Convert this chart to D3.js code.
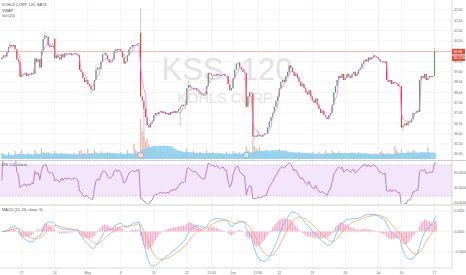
<!DOCTYPE html>
<html>
<head>
<meta charset="utf-8">
<script src="https://cdn.jsdelivr.net/npm/d3@7"></script>
<style>
body { margin: 0; background: #fff; }
svg { display: block; font-family: "Liberation Sans", Arial, sans-serif; }
</style>
</head>
<body>
<div id="chart"></div>
<script>
// KSS, 120 minute bars, BATS
var tradingDays = [
  "2017-04-11","2017-04-12","2017-04-13","2017-04-17","2017-04-18","2017-04-19","2017-04-20","2017-04-21",
  "2017-04-24","2017-04-25","2017-04-26","2017-04-27","2017-04-28",
  "2017-05-01","2017-05-02","2017-05-03","2017-05-04","2017-05-05","2017-05-08","2017-05-09","2017-05-10",
  "2017-05-11","2017-05-12","2017-05-15","2017-05-16","2017-05-17","2017-05-18","2017-05-19","2017-05-22",
  "2017-05-23","2017-05-24","2017-05-25","2017-05-26","2017-05-30","2017-05-31",
  "2017-06-01","2017-06-02","2017-06-05","2017-06-06","2017-06-07","2017-06-08","2017-06-09","2017-06-12",
  "2017-06-13","2017-06-14","2017-06-15","2017-06-16","2017-06-19","2017-06-20","2017-06-21","2017-06-22",
  "2017-06-23","2017-06-26","2017-06-27","2017-06-28","2017-06-29","2017-06-30",
  "2017-07-03","2017-07-05","2017-07-06","2017-07-07","2017-07-10","2017-07-11","2017-07-12","2017-07-13",
  "2017-07-14","2017-07-17"
];
// sessions with fewer than four bars (half day, last day still open)
var shortDays = {"2017-07-03": 2, "2017-07-17": 2};

// closes, four bars a day
var closes = [
  39.70, 39.80, 39.75, 39.95,
  40.20, 40.30, 40.25, 40.30,
  40.10, 39.60, 39.50, 38.75,
  38.85, 38.90, 38.95, 38.80,
  38.90, 38.85, 38.95, 38.90,
  39.65, 39.50, 39.60, 39.20,
  40.00, 40.60, 40.75, 40.70,
  40.30, 40.20, 40.25, 40.20,
  39.65, 39.80, 39.70, 39.60,
  39.85, 39.70, 39.90, 39.85,
  39.85, 39.90, 39.80, 39.85,
  39.90, 39.85, 39.80, 39.10,
  39.00, 38.70, 38.50, 38.60,
  38.40, 38.30, 38.15, 38.10,
  38.60, 39.10, 39.20, 39.15,
  39.50, 39.85, 39.90, 39.80,
  39.60, 39.45, 39.50, 39.60,
  40.00, 40.10, 40.05, 40.10,
  40.00, 39.70, 39.40, 39.50,
  39.80, 40.10, 40.20, 40.30,
  40.25, 40.30, 40.35, 40.40,
  37.80, 37.60, 37.20, 36.80,
  36.40, 36.30, 36.50, 36.60,
  36.90, 37.00, 36.95, 37.05,
  37.10, 37.00, 37.05, 36.95,
  37.00, 36.90, 37.05, 37.00,
  37.10, 37.00, 37.10, 37.20,
  37.30, 37.40, 37.35, 37.40,
  38.20, 38.35, 38.25, 38.20,
  38.15, 38.20, 38.10, 38.05,
  37.95, 37.90, 37.85, 37.90,
  38.30, 38.95, 38.90, 38.85,
  38.85, 38.80, 38.90, 38.85,
  38.80, 38.85, 38.90, 38.80,
  38.80, 38.40, 38.10, 38.20,
  38.70, 39.10, 39.40, 39.45,
  39.20, 39.10, 39.00, 38.95,
  37.30, 37.80, 38.00, 37.95,
  35.85, 35.90, 35.85, 35.95,
  35.90, 35.85, 35.95, 36.00,
  36.00, 36.30, 36.60, 36.80,
  37.00, 37.30, 37.60, 37.80,
  38.20, 38.50, 38.60, 38.50,
  38.80, 39.00, 39.30, 39.20,
  39.00, 38.80, 38.90, 38.70,
  38.50, 38.30, 38.40, 38.20,
  38.00, 37.90, 38.10, 37.80,
  37.60, 37.50, 37.70, 37.40,
  37.20, 37.00, 37.10, 36.90,
  36.80, 36.70, 36.90, 37.00,
  37.40, 38.00, 38.30, 38.60,
  38.80, 38.70, 38.90, 38.60,
  38.70, 38.90, 38.80, 38.70,
  38.90, 39.00, 38.80, 38.90,
  39.10, 39.20, 39.40, 39.50,
  39.60, 39.50, 39.70, 39.60,
  39.70, 39.80, 39.75, 39.70,
  39.60, 39.50,
  39.50, 39.45, 39.50, 38.60,
  38.50, 38.60, 38.40, 38.50,
  38.45, 38.40, 38.30, 38.30,
  36.30, 36.40, 36.50, 36.40,
  36.60, 36.55, 36.70, 37.00,
  37.00, 37.10, 37.05, 38.60,
  38.80, 38.70, 38.90, 38.60,
  38.70, 38.80, 38.75, 38.80,
  39.98, 39.98
];

// bars that opened away from the previous close
var gapOpens = {0: 39.60, 32: 40.60, 84: 40.90};
// wicks that reach past the body
var wickHighs = {5: 40.45, 26: 40.95, 57: 39.35, 84: 42.10, 113: 38.55, 262: 40.15};
var wickLows = {10: 39.35, 54: 37.95, 86: 35.70, 108: 36.35, 153: 35.70, 243: 36.15};

// volume, hundred-thousands of shares, four bars a day
var volumes = [
  6,4,3,2, 7,4,4,3, 8,5,5,6, 9,5,4,3, 6,4,4,3, 9,6,5,4, 11,7,6,5, 7,4,4,3,
  8,5,4,3, 6,4,4,3, 5,4,3,3, 6,4,5,8, 9,6,6,5,
  10,6,6,5, 9,7,5,4, 8,5,4,4, 7,5,5,4, 6,4,4,3, 7,5,5,4, 9,6,6,5, 15,9,8,7,
  40,28,22,18, 20,14,12,9, 13,8,8,6, 11,7,7,5, 9,6,6,5, 8,6,5,5, 8,6,6,5, 11,7,6,5,
  8,5,5,4, 7,5,5,4, 9,6,6,5, 7,5,4,4, 6,4,4,4, 7,5,5,4,
  8,6,6,5, 7,5,5,4, 13,9,8,7, 20,13,11,9, 12,8,7,6, 9,6,6,5, 9,7,6,6, 10,7,6,6,
  9,6,6,5, 7,5,5,4, 7,5,5,4, 6,5,4,4, 7,5,5,4, 7,5,5,5, 8,6,6,5, 9,7,6,6,
  8,6,5,5, 6,5,4,4, 7,5,5,4, 7,5,5,4, 6,5,4,4,
  4,3, 6,5,4,7, 8,6,5,5, 6,5,4,4, 13,9,7,6, 9,6,6,5, 8,6,5,9, 8,6,5,5, 7,5,5,4,
  12,6
];

var priceTicks = d3.range(35, 42.01, 0.5);
var rsiTicks = [60, 40, 20];
var macdTicks = [0.5, 0, -0.5];

var xTickDays = ["2017-04-17","2017-04-24","2017-05-01","2017-05-08","2017-05-15","2017-05-22","2017-05-25",
  "2017-06-01","2017-06-06","2017-06-12","2017-06-19","2017-06-26","2017-07-03","2017-07-10","2017-07-17"];
var xTickSlot = [0,0,0,0,0,0,3,0,3,0,0,0,0,0,0];
var xTickLabels = ["17","24","May","8","15","22","15:30","Jun","15:30","12","19","26","Jul","10","17"];

var legendLines = ["KOHLS CORP, 120, BATS", "VWAP", "Vol (20)"];
var lastLabels = ["39.98", "39.2734"];

// ---- build the bars
var bars = [];
tradingDays.forEach(function(d) {
  var n = shortDays[d] || 4;
  for (var k = 0; k < n; k++) bars.push({day: d, slot: k});
});
bars.forEach(function(b, i) {
  b.i = i;
  b.close = closes[i];
  b.open = (i in gapOpens) ? gapOpens[i] : closes[i - 1];
  b.high = Math.max(b.open, b.close, wickHighs[i] || 0);
  b.low = Math.min(b.open, b.close, wickLows[i] || 99);
  b.vol = volumes[i];
  b.up = b.close >= b.open;
});
function barOf(day, slot) {
  for (var i = 0; i < bars.length; i++) if (bars[i].day === day && bars[i].slot === slot) return i;
  return -1;
}

// ---- indicators
// VWAP, reset each session
var cumPV = 0, cumV = 0, prevDay = null;
bars.forEach(function(b) {
  if (b.day !== prevDay) { cumPV = 0; cumV = 0; prevDay = b.day; }
  var tp = (b.high + b.low + b.close) / 3;
  cumPV += tp * b.vol; cumV += b.vol;
  b.vwap = cumPV / cumV;
});
// volume MA 20
bars.forEach(function(b, i) {
  var s = bars.slice(Math.max(0, i - 19), i + 1);
  b.volMa = d3.mean(s, function(d) { return d.vol; });
});
// RSI 14
var avgG = 0, avgL = 0;
bars.forEach(function(b, i) {
  if (i === 0) { b.rsi = 50; return; }
  var ch = b.close - bars[i - 1].close;
  var g = Math.max(ch, 0), l = Math.max(-ch, 0);
  if (i === 1) { avgG = g; avgL = l; }
  else { avgG = (avgG * 13 + g) / 14; avgL = (avgL * 13 + l) / 14; }
  b.rsi = (avgG + avgL) === 0 ? 50 : 100 * avgG / (avgG + avgL);
});
// MACD 12 26 9
function ema(vals, n) {
  var k = 2 / (n + 1), out = [], e = vals[0];
  vals.forEach(function(v, i) { e = i ? v * k + e * (1 - k) : v; out.push(e); });
  return out;
}
var e12 = ema(closes, 12), e26 = ema(closes, 26);
var macdVals = e12.map(function(v, i) { return v - e26[i]; });
var sigVals = ema(macdVals, 9);
bars.forEach(function(b, i) { b.macd = macdVals[i]; b.signal = sigVals[i]; b.hist = macdVals[i] - sigVals[i]; });

// ---- layout
var W = 466, H = 275, plotW = 452;
var pane = {
  main: [0, 160],
  rsi: [161, 204],
  macd: [206, 267]
};
var axisY = 268;

var x = d3.scaleLinear().domain([-1.15, 272.6]).range([0, plotW]);
var y = d3.scaleLinear().domain([35, 42]).range([154.2, 10]);
var yVol = d3.scaleLinear().domain([0, 40]).range([159, 119]);
var yRsi = d3.scaleLinear().domain([30, 70]).range([196, 165]);
var yMacd = d3.scaleLinear().domain([-0.5, 0.5]).range([252, 211]);

var svg = d3.select("#chart").append("svg").attr("width", W).attr("height", H);
var defs = svg.append("defs");
Object.keys(pane).forEach(function(k) {
  defs.append("clipPath").attr("id", "clip-" + k).append("rect")
    .attr("x", 0).attr("y", pane[k][0]).attr("width", plotW).attr("height", pane[k][1] - pane[k][0]);
});

// grid
var grid = svg.append("g");
var tickIdx = xTickDays.map(function(d, i) { return barOf(d, xTickSlot[i]); });
grid.selectAll("line.v").data(tickIdx).enter().append("line")
  .attr("x1", function(d) { return x(d); }).attr("x2", function(d) { return x(d); })
  .attr("y1", 0).attr("y2", axisY).attr("stroke", "#f1f1f1").attr("stroke-width", 0.8);
grid.selectAll("line.h").data(priceTicks).enter().append("line")
  .attr("x1", 0).attr("x2", plotW).attr("y1", function(d) { return y(d); }).attr("y2", function(d) { return y(d); })
  .attr("stroke", "#f1f1f1").attr("stroke-width", 0.8);
grid.selectAll("line.m").data(macdTicks).enter().append("line")
  .attr("x1", 0).attr("x2", plotW).attr("y1", function(d) { return yMacd(d); }).attr("y2", function(d) { return yMacd(d); })
  .attr("stroke", "#f1f1f1").attr("stroke-width", 0.8);

// watermark
svg.append("text").attr("x", 227).attr("y", 80).attr("text-anchor", "middle")
  .attr("font-size", 31).attr("fill", "#e3e3e3").text("KSS, 120");
svg.append("text").attr("x", 225).attr("y", 103).attr("text-anchor", "middle")
  .attr("font-size", 14.5).attr("fill", "#e3e3e3").text("KOHLS CORP");

// ---- main pane
var main = svg.append("g").attr("clip-path", "url(#clip-main)");

// volume
main.selectAll("rect.vol").data(bars).enter().append("rect")
  .attr("x", function(d) { return x(d.i) - 0.6; }).attr("width", 1.2)
  .attr("y", function(d) { return yVol(d.vol); })
  .attr("height", function(d) { return yVol(0) - yVol(d.vol); })
  .attr("fill", function(d) { return d.up ? "#a9d4b8" : "#f0b3aa"; });
main.append("path").datum(bars)
  .attr("d", d3.area().x(function(d) { return x(d.i); }).y0(yVol(0)).y1(function(d) { return yVol(d.volMa); }))
  .attr("fill", "#8ccff0").attr("fill-opacity", 0.85);

// last price line
main.append("line").attr("x1", 0).attr("x2", plotW)
  .attr("y1", y(closes[closes.length - 1])).attr("y2", y(closes[closes.length - 1]))
  .attr("stroke", "#f2a59c").attr("stroke-width", 0.8);

// candles
main.selectAll("line.wick").data(bars).enter().append("line")
  .attr("x1", function(d) { return x(d.i); }).attr("x2", function(d) { return x(d.i); })
  .attr("y1", function(d) { return y(d.high); }).attr("y2", function(d) { return y(d.low); })
  .attr("stroke", "#9a9a9a").attr("stroke-width", 0.5);
main.selectAll("rect.body").data(bars).enter().append("rect")
  .attr("x", function(d) { return x(d.i) - 0.55; }).attr("width", 1.1)
  .attr("y", function(d) { return y(Math.max(d.open, d.close)); })
  .attr("height", function(d) { return Math.max(0.6, Math.abs(y(d.open) - y(d.close))); })
  .attr("fill", function(d) { return d.up ? "#4e9a6a" : "#d8402f"; });

// vwap
main.append("path").datum(bars)
  .attr("d", d3.line().x(function(d) { return x(d.i); }).y(function(d) { return y(d.vwap); }))
  .attr("fill", "none").attr("stroke", "#f07cf0").attr("stroke-width", 0.8);

// event markers
var markers = [{i: barOf("2017-05-11", 0), t: "E", c: "#ea6f7a"}, {i: barOf("2017-06-05", 0), t: "D", c: "#4b9fe0"}];
markers.forEach(function(m) {
  main.append("circle").attr("cx", x(m.i)).attr("cy", 155).attr("r", 2.8)
    .attr("fill", "#fff").attr("stroke", m.c).attr("stroke-width", 0.7);
  main.append("text").attr("x", x(m.i)).attr("y", 156.3).attr("text-anchor", "middle")
    .attr("font-size", 3.4).attr("fill", m.c).text(m.t);
});

// legend
svg.selectAll("text.leg").data(legendLines).enter().append("text")
  .attr("x", 2).attr("y", function(d, i) { return 6 + i * 5.6; })
  .attr("font-size", 3.8).attr("fill", "#555").text(function(d) { return d; });

// ---- RSI pane
var rsiG = svg.append("g").attr("clip-path", "url(#clip-rsi)");
rsiG.append("rect").attr("x", 0).attr("width", plotW).attr("y", yRsi(70)).attr("height", yRsi(30) - yRsi(70))
  .attr("fill", "#f3e6fb");
[70, 30].forEach(function(v) {
  rsiG.append("line").attr("x1", 0).attr("x2", plotW).attr("y1", yRsi(v)).attr("y2", yRsi(v))
    .attr("stroke", "#c7a3d8").attr("stroke-width", 0.6).attr("stroke-dasharray", "1.5,1.5");
});
rsiG.append("path").datum(bars)
  .attr("d", d3.line().x(function(d) { return x(d.i); }).y(function(d) { return yRsi(d.rsi); }))
  .attr("fill", "none").attr("stroke", "#b163c9").attr("stroke-width", 0.8);
svg.append("text").attr("x", 2).attr("y", 166).attr("font-size", 3.8).attr("fill", "#555").text("RSI (14, close)");

// ---- MACD pane
var macdG = svg.append("g").attr("clip-path", "url(#clip-macd)");
macdG.selectAll("rect.h").data(bars).enter().append("rect")
  .attr("x", function(d) { return x(d.i) - 0.55; }).attr("width", 1.1)
  .attr("y", function(d) { return yMacd(Math.max(0, d.hist)); })
  .attr("height", function(d) { return Math.abs(yMacd(0) - yMacd(d.hist)); })
  .attr("fill", "#f6a6c6");
macdG.append("path").datum(bars)
  .attr("d", d3.line().x(function(d) { return x(d.i); }).y(function(d) { return yMacd(d.signal); }))
  .attr("fill", "none").attr("stroke", "#f7a465").attr("stroke-width", 0.8);
macdG.append("path").datum(bars)
  .attr("d", d3.line().x(function(d) { return x(d.i); }).y(function(d) { return yMacd(d.macd); }))
  .attr("fill", "none").attr("stroke", "#6bbcf3").attr("stroke-width", 0.8);
svg.append("text").attr("x", 2).attr("y", 211).attr("font-size", 3.8).attr("fill", "#555").text("MACD (12, 26, close, 9)");

// ---- frame, separators, axes
[160.5, 205].forEach(function(v) {
  svg.append("line").attr("x1", 0).attr("x2", W).attr("y1", v).attr("y2", v)
    .attr("stroke", "#cfcfcf").attr("stroke-width", 1.2);
});
svg.append("line").attr("x1", plotW).attr("x2", plotW).attr("y1", 0).attr("y2", axisY)
  .attr("stroke", "#cfcfcf").attr("stroke-width", 0.8);
svg.append("line").attr("x1", 0).attr("x2", plotW).attr("y1", axisY).attr("y2", axisY)
  .attr("stroke", "#cfcfcf").attr("stroke-width", 0.8);

var fmt2 = d3.format(".2f"), fmt4 = d3.format(".4f");
svg.selectAll("text.p").data(priceTicks).enter().append("text")
  .attr("x", 454).attr("y", function(d) { return y(d) + 1.2; })
  .attr("font-size", 3.4).attr("fill", "#666").text(function(d) { return fmt2(d); });
svg.selectAll("text.r").data(rsiTicks).enter().append("text")
  .attr("x", 454).attr("y", function(d) { return Math.min(yRsi(d), 202.5) + 1.2; })
  .attr("font-size", 3.4).attr("fill", "#666").text(function(d) { return fmt4(d); });
svg.selectAll("text.mc").data(macdTicks).enter().append("text")
  .attr("x", 454).attr("y", function(d) { return yMacd(d) + 1.2; })
  .attr("font-size", 3.4).attr("fill", "#666").text(function(d) { return fmt4(d); });

// last value tags
var tagY = [y(closes[closes.length - 1]), y(closes[closes.length - 1]) + 6.6];
lastLabels.forEach(function(t, i) {
  svg.append("rect").attr("x", plotW).attr("y", tagY[i] - 2.8).attr("width", 13).attr("height", 5.6).attr("fill", "#dc4d3f");
  svg.append("text").attr("x", plotW + 1.5).attr("y", tagY[i] + 1.2).attr("font-size", 3.4).attr("fill", "#fff").text(t);
});

// time axis
svg.selectAll("text.t").data(xTickLabels).enter().append("text")
  .attr("x", function(d, i) { return x(tickIdx[i]); }).attr("y", 273.5).attr("text-anchor", "middle")
  .attr("font-size", 3.4).attr("fill", "#666").text(function(d) { return d; });
</script>
</body>
</html>
